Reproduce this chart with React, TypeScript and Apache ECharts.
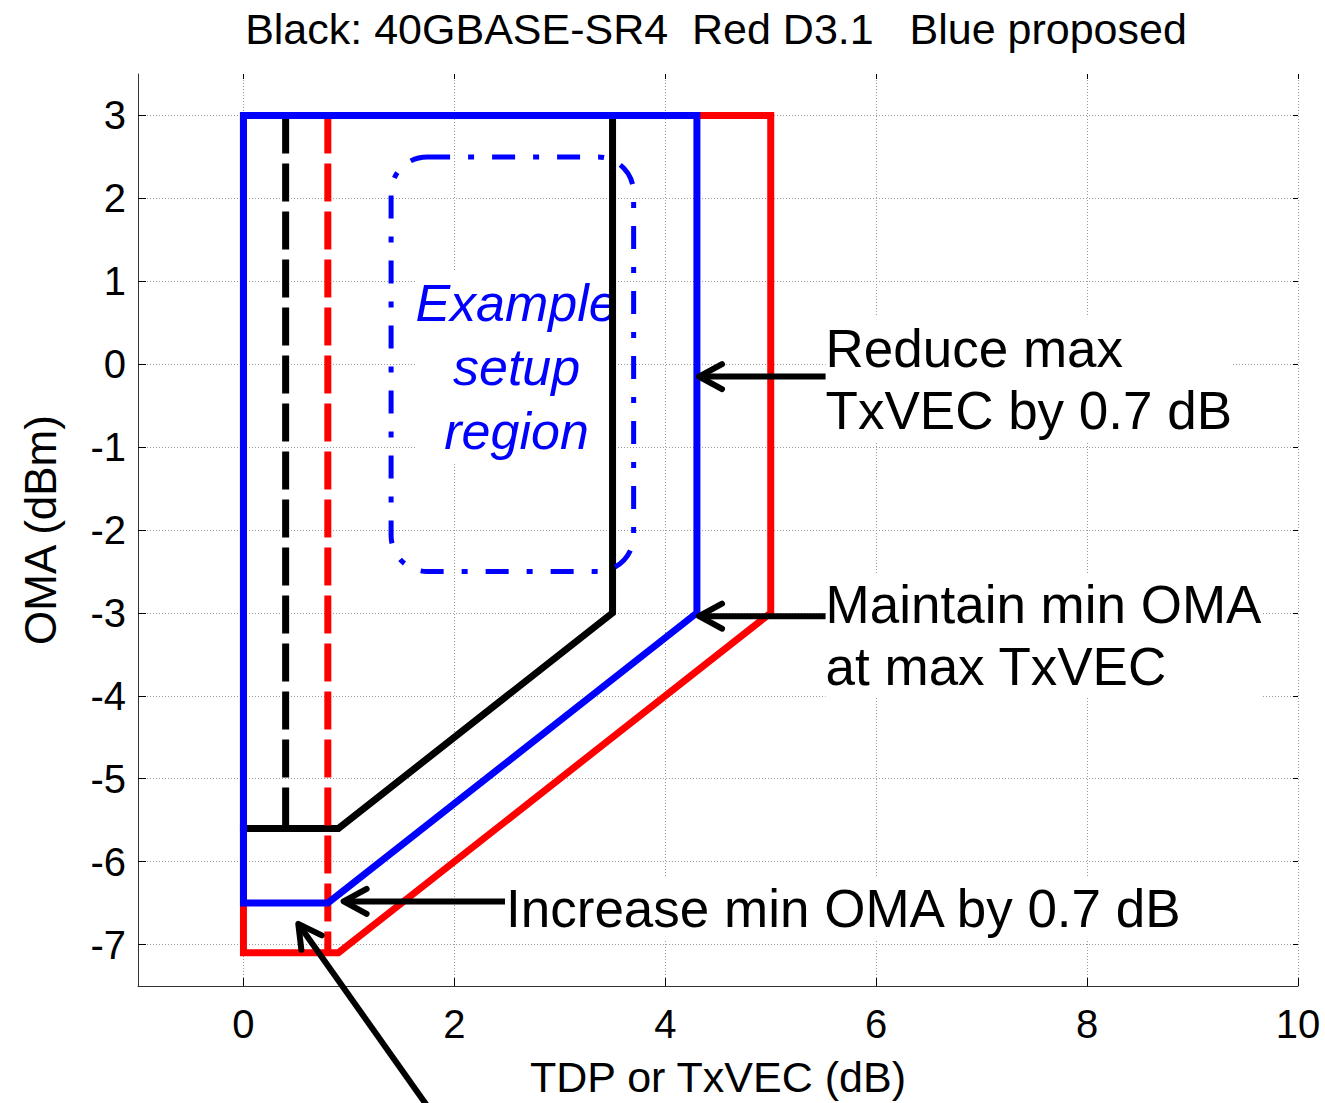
import React, { useEffect, useRef } from "react";
import * as echarts from "echarts";

const FONT = '"Liberation Sans", Arial, Helvetica, sans-serif';

const TITLE_TEXT = "Black: 40GBASE-SR4  Red D3.1   Blue proposed";
const X_AXIS_NAME = "TDP or TxVEC (dB)";
const Y_AXIS_NAME = "OMA (dBm)";
const X_RANGE = [-1, 10];
const Y_RANGE = [-7.5, 3.5];
const X_TICKS = [0, 2, 4, 6, 8, 10];
const Y_TICKS = [-7, -6, -5, -4, -3, -2, -1, 0, 1, 2, 3];

// Outlines [TDP/TxVEC, OMA]
const RED_D31 = [[0, 3], [0, -7.1], [0.9, -7.1], [5, -3], [5, 3], [0, 3]];
const RED_D31_TDP = [[0.8, 3], [0.8, -7.1]];
const BLACK_SR4 = [[0, -5.6], [0.9, -5.6], [3.5, -3], [3.5, 3]];
const BLACK_SR4_TDP = [[0.4, 3], [0.4, -5.6]];
const BLUE_PROPOSED = [[0, 3], [0, -6.5], [0.8, -6.5], [4.3, -3], [4.3, 3], [0, 3]];

// Example setup region [x1, y1, x2, y2]
const SETUP_REGION = [[1.4, 2.5, 3.7, -2.5]];
const SETUP_LABEL = ["Example\nsetup\nregion"];
const SETUP_LABEL_AT = [[2.59, -0.04]];

// Annotations
const NOTES = ["Reduce max\nTxVEC by 0.7 dB", "Maintain min OMA\nat max TxVEC", "Increase min OMA by 0.7 dB"];
const NOTES_AT = [[5.52, -0.18], [5.52, -3.27], [2.49, -6.56]];
// [tailX, tailY, tipX, tipY]
const ARROWS = [
  [5.52, -0.15, 4.32, -0.15],
  [5.52, -3.04, 4.32, -3.04],
  [2.48, -6.48, 0.95, -6.48],
  [1.85, -9.14, 0.52, -6.75],
];

const GRID_LINE = { color: "#9a9a9a", width: 1, type: [1, 2] as any };

function textEl(text: string, p: number[], o: any) {
  return {
    type: "text",
    x: p[0],
    y: p[1],
    style: {
      text,
      fontSize: o.fontSize,
      fontFamily: FONT,
      fontStyle: o.fontStyle || "normal",
      fill: o.fill || "#000",
      align: o.align,
      textAlign: o.align,
      verticalAlign: "middle",
      textVerticalAlign: "middle",
      lineHeight: o.lineHeight,
      backgroundColor: "#fff",
    },
  };
}

function lineSeries(data: number[][], color: string, z: number, dashed: boolean) {
  return {
    type: "line",
    data,
    z,
    silent: true,
    showSymbol: false,
    symbol: "none",
    clip: false,
    lineStyle: {
      color,
      width: 7,
      type: dashed ? [38, 10] : "solid",
      cap: dashed ? "butt" : "square",
      join: "miter",
    },
  };
}

export default function App() {
  const ref = useRef<HTMLDivElement>(null);

  useEffect(() => {
    if (!ref.current) return;
    const chart = echarts.init(ref.current, null, { renderer: "svg" });

    const axisLabelStyle = { fontSize: 40, fontFamily: FONT, color: "#000" };

    const option: any = {
      animation: false,
      backgroundColor: "#fff",
      grid: { left: 138, right: 27, top: 74, bottom: 117, containLabel: false, outerBoundsMode: "none" },
      graphic: [
        {
          type: "text",
          x: 716,
          y: 29,
          style: {
            text: TITLE_TEXT,
            fontSize: 43,
            fontFamily: FONT,
            fill: "#000",
            align: "center",
            textAlign: "center",
            verticalAlign: "middle",
            textVerticalAlign: "middle",
          },
        },
      ],
      xAxis: [
        {
          type: "value",
          min: X_RANGE[0],
          max: X_RANGE[1],
          position: "bottom",
          name: X_AXIS_NAME,
          nameLocation: "middle",
          nameGap: 69,
          nameTextStyle: { fontSize: 43, fontFamily: FONT, color: "#000", lineHeight: 44 },
          axisLine: { show: true, onZero: false, lineStyle: { color: "#333", width: 1 } },
          axisTick: { show: true, inside: true, length: 8, customValues: X_TICKS, lineStyle: { color: "#000" } },
          axisLabel: { ...axisLabelStyle, margin: 18, customValues: X_TICKS },
          splitLine: { show: true, lineStyle: GRID_LINE },
        },
        {
          type: "value",
          min: X_RANGE[0],
          max: X_RANGE[1],
          position: "top",
          axisLine: { show: false, onZero: false },
          axisTick: { show: true, inside: true, length: 5, customValues: X_TICKS, lineStyle: { color: "#000" } },
          axisLabel: { show: false },
          splitLine: { show: false },
        },
      ],
      yAxis: [
        {
          type: "value",
          min: Y_RANGE[0],
          max: Y_RANGE[1],
          position: "left",
          name: Y_AXIS_NAME,
          nameLocation: "middle",
          nameGap: 76,
          nameTextStyle: { fontSize: 44, fontFamily: FONT, color: "#000" },
          axisLine: { show: true, onZero: false, lineStyle: { color: "#333", width: 1 } },
          axisTick: { show: true, inside: true, length: 8, customValues: Y_TICKS, lineStyle: { color: "#000" } },
          axisLabel: { ...axisLabelStyle, margin: 12, customValues: Y_TICKS },
          splitLine: { show: true, lineStyle: GRID_LINE },
        },
        {
          type: "value",
          min: Y_RANGE[0],
          max: Y_RANGE[1],
          position: "right",
          axisLine: { show: false, onZero: false },
          axisTick: { show: true, inside: true, length: 5, customValues: Y_TICKS, lineStyle: { color: "#000" } },
          axisLabel: { show: false },
          splitLine: { show: false },
        },
      ],
      series: [
        {
          type: "custom",
          name: "notes",
          silent: true,
          clip: false,
          z: 2,
          data: NOTES_AT.map((p, i) => [p[0], p[1], i]),
          encode: { x: 0, y: 1 },
          renderItem: (params: any, api: any) => {
            const p = api.coord([api.value(0), api.value(1)]);
            return textEl(NOTES[api.value(2)], p, { fontSize: 53, lineHeight: 62, align: "left" });
          },
        },
        {
          type: "custom",
          name: "setup label",
          silent: true,
          clip: false,
          z: 2,
          data: SETUP_LABEL_AT.map((p, i) => [p[0], p[1], i]),
          encode: { x: 0, y: 1 },
          renderItem: (params: any, api: any) => {
            const p = api.coord([api.value(0), api.value(1)]);
            return textEl(SETUP_LABEL[api.value(2)], p, {
              fontSize: 52,
              lineHeight: 64,
              align: "center",
              fontStyle: "italic",
              fill: "#0000ff",
            });
          },
        },
        lineSeries(RED_D31, "#ff0000", 3, false),
        lineSeries(BLACK_SR4, "#000000", 4, false),
        lineSeries(BLACK_SR4_TDP, "#000000", 5, true),
        lineSeries(RED_D31_TDP, "#ff0000", 6, true),
        lineSeries(BLUE_PROPOSED, "#0000ff", 7, false),
        {
          type: "custom",
          name: "setup region",
          silent: true,
          clip: false,
          z: 8,
          data: SETUP_REGION,
          encode: { x: [0, 2], y: [1, 3] },
          renderItem: (params: any, api: any) => {
            const a = api.coord([api.value(0), api.value(1)]);
            const b = api.coord([api.value(2), api.value(3)]);
            return {
              type: "rect",
              shape: { x: a[0], y: a[1], width: b[0] - a[0], height: b[1] - a[1], r: 36 },
              style: { fill: "none", stroke: "#0000ff", lineWidth: 5, lineDash: [23, 18, 6, 18] },
            };
          },
        },
        {
          type: "custom",
          name: "arrows",
          silent: true,
          clip: false,
          z: 9,
          data: ARROWS,
          encode: { x: [0, 2], y: [1, 3] },
          renderItem: (params: any, api: any) => {
            const a = api.coord([api.value(0), api.value(1)]);
            const b = api.coord([api.value(2), api.value(3)]);
            const ang = Math.atan2(b[1] - a[1], b[0] - a[0]);
            const L = 23;
            const W = 12.5;
            const cx = Math.cos(ang);
            const sy = Math.sin(ang);
            const bx = b[0] - L * cx;
            const by = b[1] - L * sy;
            const nx = -sy;
            const ny = cx;
            return {
              type: "group",
              children: [
                {
                  type: "line",
                  shape: { x1: a[0], y1: a[1], x2: b[0] - 2 * cx, y2: b[1] - 2 * sy },
                  style: { stroke: "#000", lineWidth: 6, lineCap: "butt" },
                },
                {
                  type: "polyline",
                  shape: { points: [[bx + nx * W, by + ny * W], [b[0], b[1]], [bx - nx * W, by - ny * W]] },
                  style: { stroke: "#000", fill: "none", lineWidth: 6, lineCap: "round", lineJoin: "round" },
                },
              ],
            };
          },
        },
      ],
    };

    chart.setOption(option);
    return () => chart.dispose();
  }, []);

  return (
    <div
      ref={ref}
      style={{ position: "fixed", left: 0, top: 0, width: 1325, height: 1103, background: "#fff" }}
    />
  );
}
